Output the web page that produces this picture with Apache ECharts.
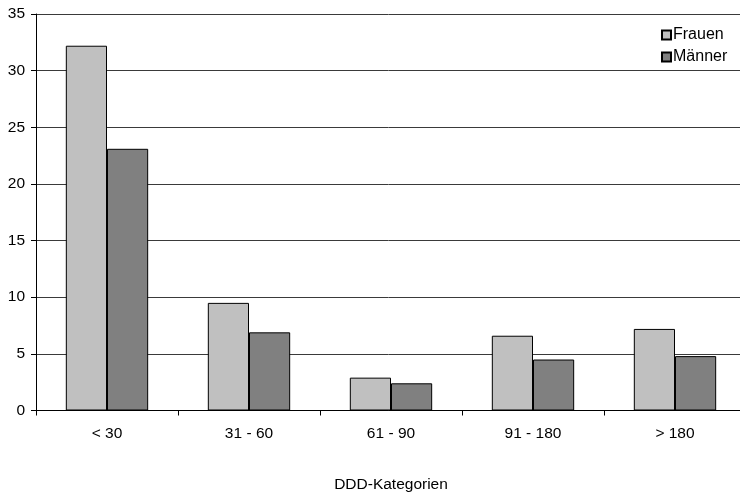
<!DOCTYPE html>
<html>
<head>
<meta charset="utf-8">
<script src="https://cdn.jsdelivr.net/npm/echarts@6/dist/echarts.min.js"></script>
<style>
  html, body { margin: 0; padding: 0; background: #fff; overflow: hidden; }
  #chart { width: 740px; height: 496px; }
</style>
</head>
<body>
<div id="chart"></div>
<script>
// DDD categories and shares per group
const categories = ['< 30', '31 - 60', '61 - 90', '91 - 180', '> 180'];
const frauen = [32.2, 9.5, 2.9, 6.6, 7.2];
const maenner = [23.1, 6.9, 2.4, 4.5, 4.8];
const seriesNames = ['Frauen', 'Männer'];
const axisTitle = 'DDD-Kategorien';

const font = 'Liberation Sans, Arial, sans-serif';
const chart = echarts.init(document.getElementById('chart'), null, { renderer: 'canvas' });

chart.setOption({
  animation: false,
  backgroundColor: '#fff',
  textStyle: { fontFamily: font, color: '#000' },
  grid: {
    left: 36, top: 14, right: -6, bottom: 85.5,
    containLabel: false,
    outerBoundsMode: 'none'
  },
  legend: {
    orient: 'vertical',
    left: 656,
    top: 22,
    itemWidth: 9,
    itemHeight: 9,
    itemGap: 6,
    icon: 'rect',
    textStyle: { fontFamily: font, fontSize: 16, lineHeight: 16, color: '#000', padding: [0, 0, 0, -3] },
    data: seriesNames
  },
  xAxis: {
    type: 'category',
    data: categories,
    boundaryGap: true,
    name: axisTitle,
    nameLocation: 'middle',
    nameGap: 66,
    nameTextStyle: { fontFamily: font, fontSize: 15.5, color: '#000' },
    axisLine: { lineStyle: { color: '#000', width: 1 } },
    axisTick: { show: true, length: 5, alignWithLabel: false, lineStyle: { color: '#000' } },
    axisLabel: { fontFamily: font, fontSize: 15.5, color: '#000', margin: 15 },
    splitLine: { show: false }
  },
  yAxis: {
    type: 'value',
    min: 0,
    max: 35,
    interval: 5,
    axisLine: { show: true, lineStyle: { color: '#000', width: 1 } },
    axisTick: { show: true, length: 5, lineStyle: { color: '#000' } },
    axisLabel: { fontFamily: font, fontSize: 15.5, color: '#000', margin: 11 },
    splitLine: { show: true, lineStyle: { color: '#3a3a3a', width: 1 } }
  },
  series: [
    {
      name: seriesNames[0],
      type: 'bar',
      data: frauen,
      barGap: '0%',
      barCategoryGap: '42%',
      itemStyle: { color: '#c0c0c0', borderColor: '#000', borderWidth: 1 }
    },
    {
      name: seriesNames[1],
      type: 'bar',
      data: maenner,
      barGap: '0%',
      barCategoryGap: '42%',
      itemStyle: { color: '#808080', borderColor: '#000', borderWidth: 1 }
    }
  ]
});
</script>
</body>
</html>
